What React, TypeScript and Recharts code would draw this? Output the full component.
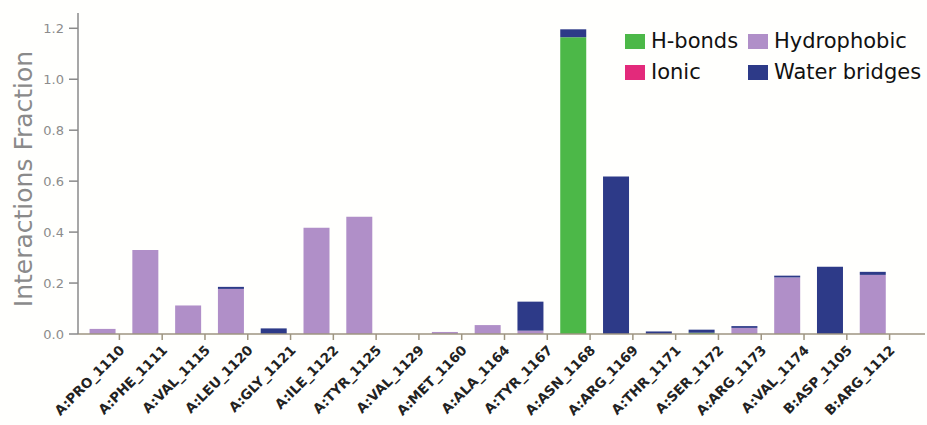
import { Bar, BarChart, XAxis, YAxis } from 'recharts';

const residues = [
  'A:PRO_1110', 'A:PHE_1111', 'A:VAL_1115', 'A:LEU_1120', 'A:GLY_1121',
  'A:ILE_1122', 'A:TYR_1125', 'A:VAL_1129', 'A:MET_1160', 'A:ALA_1164',
  'A:TYR_1167', 'A:ASN_1168', 'A:ARG_1169', 'A:THR_1171', 'A:SER_1172',
  'A:ARG_1173', 'A:VAL_1174', 'B:ASP_1105', 'B:ARG_1112',
];
const hBonds = [0, 0, 0, 0, 0, 0, 0, 0, 0, 0, 0, 1.165, 0, 0, 0.005, 0, 0, 0, 0];
const hydrophobic = [0.02, 0.33, 0.112, 0.177, 0, 0.417, 0.46, 0, 0.008, 0.035, 0.013, 0, 0, 0, 0, 0.024, 0.222, 0, 0.232];
const ionic = [0, 0, 0, 0, 0, 0, 0, 0, 0, 0, 0, 0, 0, 0, 0, 0, 0, 0, 0];
const waterBridges = [0, 0, 0, 0.008, 0.022, 0, 0, 0, 0, 0, 0.114, 0.031, 0.618, 0.01, 0.012, 0.007, 0.007, 0.264, 0.012];
const yTicks = [0, 0.2, 0.4, 0.6, 0.8, 1.0, 1.2];

const GREEN = '#4cb848';
const PURPLE = '#b08fc8';
const PINK = '#e32a7b';
const BLUE = '#2d3a88';

const legendItems = [
  { name: 'H-bonds', color: GREEN },
  { name: 'Hydrophobic', color: PURPLE },
  { name: 'Ionic', color: PINK },
  { name: 'Water bridges', color: BLUE },
];

const data = residues.map((name, i) => ({
  name,
  hBonds: hBonds[i],
  hydrophobic: hydrophobic[i],
  ionic: ionic[i],
  waterBridges: waterBridges[i],
}));

const HALF_BAR = 17;

function ResidueTick({ x, y, payload }: any) {
  const tx = x + HALF_BAR;
  const lx = tx + 6;
  const ly = y + 17;
  return (
    <g>
      <line x1={tx} y1={y} x2={tx} y2={y + 6} stroke="#9e9580" strokeWidth={1.5} />
      <text
        x={lx}
        y={ly}
        textAnchor="end"
        transform={`rotate(-45, ${lx}, ${ly})`}
        fontFamily="DejaVu Sans"
        fontWeight="bold"
        fontSize={13.5}
        fill="#222"
      >
        {payload.value}
      </text>
    </g>
  );
}

function ChartLegend() {
  return (
    <div
      style={{
        position: 'absolute',
        left: 625,
        top: 31,
        display: 'grid',
        gridTemplateColumns: '123px auto',
        rowGap: 11,
        fontFamily: 'DejaVu Sans',
        fontSize: 21,
        color: '#111',
      }}
    >
      {legendItems.map((item) => (
        <div key={item.name} style={{ display: 'flex', alignItems: 'center', height: 20 }}>
          <span style={{ width: 20, height: 15, background: item.color, marginRight: 6, display: 'inline-block' }} />
          <span style={{ lineHeight: '20px' }}>{item.name}</span>
        </div>
      ))}
    </div>
  );
}

export default function App() {
  return (
    <div style={{ position: 'absolute', left: 0, top: 0, width: 927, height: 425, background: '#fffffd' }}>
      <BarChart
        width={927}
        height={425}
        data={data}
        margin={{ top: 13, right: 2, left: 0, bottom: 0 }}
        barCategoryGap="20%"
      >
        <XAxis
          dataKey="name"
          interval={0}
          height={91}
          tickLine={false}
          tickSize={0}
          tickMargin={0}
          tick={<ResidueTick />}
          axisLine={{ stroke: '#9e9580', strokeWidth: 1.5 }}
          padding={{ left: 3, right: 31 }}
        />
        <XAxis xAxisId="top" dataKey="name" orientation="top" height={0} tick={false} tickLine={false} axisLine={{ stroke: '#8a8a8a', strokeWidth: 1.5 }} />
        <YAxis
          width={78}
          domain={[0, 1.26]}
          ticks={yTicks}
          tickFormatter={(v: number) => v.toFixed(1)}
          tick={{ fill: '#8c8c8c', fontSize: 13, fontFamily: 'DejaVu Sans' }}
          tickSize={9}
          tickMargin={5}
          tickLine={{ stroke: '#8a8a8a', strokeWidth: 1.5 }}
          axisLine={{ stroke: '#8a8a8a', strokeWidth: 1.5 }}
          allowDataOverflow
        />
        <Bar dataKey="hBonds" name="H-bonds" stackId="a" fill={GREEN} isAnimationActive={false} />
        <Bar dataKey="hydrophobic" name="Hydrophobic" stackId="a" fill={PURPLE} isAnimationActive={false} />
        <Bar dataKey="ionic" name="Ionic" stackId="a" fill={PINK} isAnimationActive={false} />
        <Bar dataKey="waterBridges" name="Water bridges" stackId="a" fill={BLUE} isAnimationActive={false} />
      </BarChart>
      <ChartLegend />
      <div
        style={{
          position: 'absolute',
          left: 23,
          top: 179,
          transform: 'translate(-50%, -50%) rotate(-90deg)',
          whiteSpace: 'nowrap',
          fontFamily: 'DejaVu Sans',
          fontSize: 25,
          color: '#8a8a8a',
        }}
      >
        Interactions Fraction
      </div>
    </div>
  );
}
